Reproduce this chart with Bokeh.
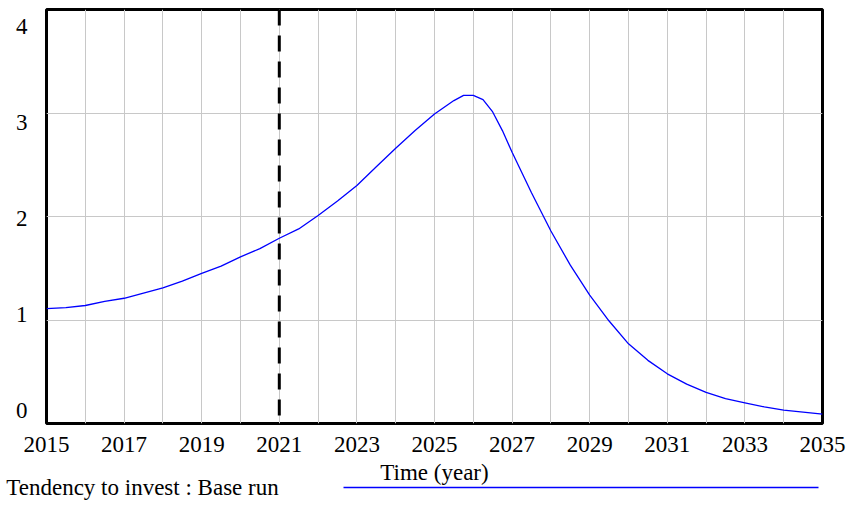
import numpy as np
from bokeh.plotting import figure
from bokeh.models import (Range1d, FixedTicker, Span, CustomJSTickFormatter,
                          Title, LinearAxis)
from bokeh.embed import file_html
from bokeh.resources import INLINE

# ---- data ----
time_year = [2015.0, 2015.5, 2016.0, 2016.5, 2017.0, 2017.5, 2018.0, 2018.5,
             2019.0, 2019.5, 2020.0, 2020.5, 2021.0, 2021.5, 2022.0, 2022.5,
             2023.0, 2023.5, 2024.0, 2024.5, 2025.0, 2025.5, 2025.75, 2026.0,
             2026.25, 2026.5, 2026.75, 2027.0, 2027.5, 2028.0, 2028.5, 2029.0,
             2029.5, 2030.0, 2030.5, 2031.0, 2031.5, 2032.0, 2032.5, 2033.0,
             2033.5, 2034.0, 2034.5, 2035.0]
tendency_to_invest = [1.11, 1.12, 1.14, 1.18, 1.21, 1.26, 1.31, 1.375,
                      1.45, 1.52, 1.61, 1.69, 1.79, 1.88, 2.01, 2.15,
                      2.30, 2.48, 2.66, 2.83, 2.99, 3.12, 3.17, 3.17,
                      3.13, 3.01, 2.83, 2.62, 2.23, 1.86, 1.53, 1.24,
                      0.99, 0.77, 0.61, 0.48, 0.38, 0.30, 0.24, 0.20,
                      0.16, 0.13, 0.11, 0.09]
x_label_years = list(range(2015, 2036, 2))
x_grid_years = list(range(2015, 2036))
y_tick_labels = ["0", "1", "2", "3", "4"]
y_grid_values = [0, 1, 2, 3, 4]
policy_year = 2021
series_name = "Tendency to invest : Base run"
x_axis_title = "Time (year)"

# ---- layout ----
FONT = "Liberation Serif"
FS = "23px"
W, H = 850, 528
BL, BR, BT, BB = 46, 28, 9, 105
X0, X1, Y0, Y1 = 2015, 2035, 0, 4
LEG_TEXT_X0 = 5            # page x where the legend text starts
LEG_TEXT_CENTER = 142      # page x of the legend text centre
LEG_LINE_X = (302, 818)    # page x extent of the legend sample line
frame_w = W - BL - BR


def px_to_x(px):
    return X0 + (px - BL) * (X1 - X0) / frame_w


p = figure(width=W, height=H,
           x_range=Range1d(X0, X1), y_range=Range1d(Y0, Y1),
           output_backend="svg", toolbar_location=None,
           min_border_left=BL, min_border_right=BR,
           min_border_top=BT, min_border_bottom=BB)
p.background_fill_color = "white"
p.border_fill_color = "white"
p.outline_line_color = "black"
p.outline_line_width = 3

# grid
p.xgrid.ticker = FixedTicker(ticks=x_grid_years)
p.ygrid.ticker = FixedTicker(ticks=y_grid_values)
for g in (p.xgrid, p.ygrid):
    g.grid_line_color = "#c8c8c8"
    g.grid_line_width = 1

# x axis
xa = p.xaxis[0]
xa.ticker = FixedTicker(ticks=x_label_years)
xa.axis_line_color = None
xa.major_tick_line_color = None
xa.minor_tick_line_color = None
xa.major_tick_out = 0
xa.major_tick_in = 0
xa.major_label_standoff = 13
xa.major_label_text_font = FONT
xa.major_label_text_font_size = FS
xa.major_label_text_color = "black"
xa.axis_label = x_axis_title
xa.axis_label_text_font = FONT
xa.axis_label_text_font_size = FS
xa.axis_label_text_font_style = "normal"
xa.axis_label_text_color = "black"
xa.axis_label_standoff = 5

# y axis: labels spread evenly inside the frame (Vensim style)
ya = p.yaxis[0]
label_pos = [round(float(v), 4) for v in np.linspace(0.126, 3.836, len(y_tick_labels))]
ya.ticker = FixedTicker(ticks=label_pos)
ya.formatter = CustomJSTickFormatter(args=dict(labels=y_tick_labels),
                                     code="return labels[index];")
ya.axis_line_color = None
ya.major_tick_line_color = None
ya.minor_tick_line_color = None
ya.major_tick_out = 0
ya.major_tick_in = 0
ya.major_label_standoff = 19
ya.major_label_text_font = FONT
ya.major_label_text_font_size = FS
ya.major_label_text_color = "black"

# policy marker
p.add_layout(Span(location=policy_year, dimension="height", line_color="black",
                  line_width=3, line_dash="16 10"))

# series
p.line(time_year, tendency_to_invest, line_color="#0000ff", line_width=1.3)

# spacer row between the axis title and the legend row
p.add_layout(Title(text=" ", standoff=1, text_font=FONT, text_font_size=FS,
                   text_alpha=0), "below")

# legend row: one bounded axis whose rule is the sample line (dashed so that it
# is only visible from LEG_LINE_X[0] to LEG_LINE_X[1]) and whose single tick
# label is the series name, pulled up so it straddles the rule
gap = LEG_LINE_X[0] - LEG_TEXT_X0
length = LEG_LINE_X[1] - LEG_LINE_X[0]
leg_axis = LinearAxis(bounds=(px_to_x(LEG_TEXT_X0), px_to_x(LEG_LINE_X[1])),
                      ticker=FixedTicker(ticks=[px_to_x(LEG_TEXT_CENTER)]),
                      formatter=CustomJSTickFormatter(args=dict(name=series_name),
                                                      code="return name;"),
                      axis_line_color="#0000ff", axis_line_width=1.3,
                      axis_line_dash=f"0 {gap} {length} 2000",
                      major_tick_line_color=None, minor_tick_line_color=None,
                      major_tick_out=0, major_tick_in=0,
                      major_label_standoff=-13,
                      major_label_text_font=FONT, major_label_text_font_size=FS,
                      major_label_text_color="black")
p.add_layout(leg_axis, "below")

open("out.html", "w").write(file_html(p, INLINE))
